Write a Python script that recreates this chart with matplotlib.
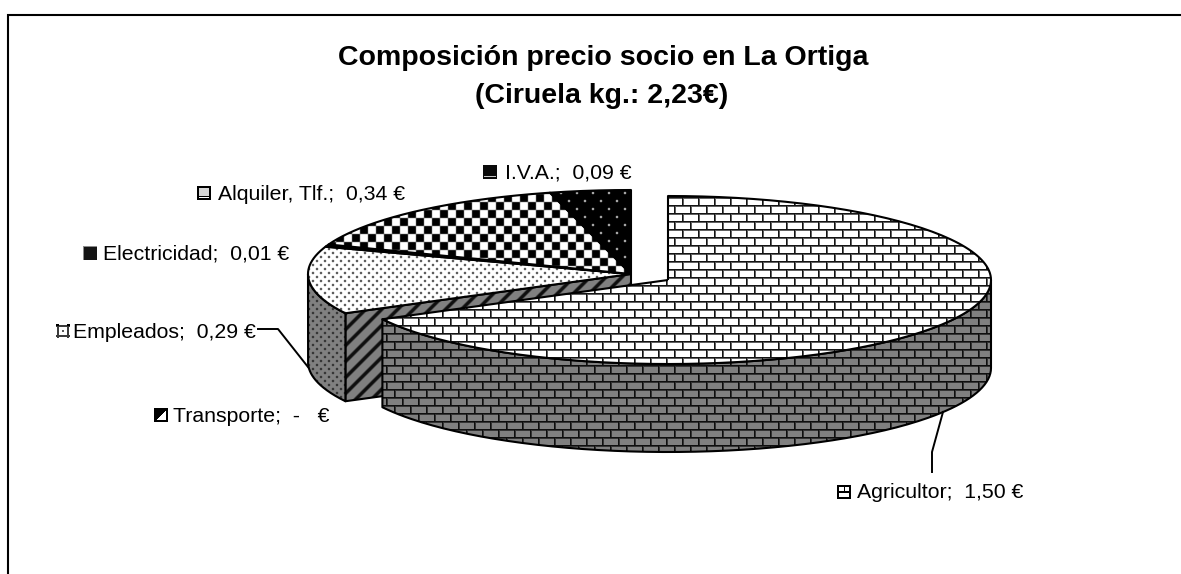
import numpy as np
import matplotlib
matplotlib.use("Agg")
import matplotlib.pyplot as plt
from matplotlib.path import Path
from matplotlib.patches import PathPatch

plt.rcParams['font.family'] = ['Liberation Sans', 'DejaVu Sans']

W, H = 1181, 574

# data, in drawing order (clockwise from 12 o'clock)
categories = ['Agricultor', 'Transporte', 'Empleados', 'Electricidad', 'Alquiler, Tlf.', 'I.V.A.']
prices = [1.50, 0.0, 0.29, 0.01, 0.34, 0.09]
value_texts = ['1,50 €', '-   €', '0,29 €', '0,01 €', '0,34 €', '0,09 €']
title_lines = ['Composición precio socio en La Ortiga', '(Ciruela kg.: 2,23€)']

# layout in pixels
CX, CY = 631, 274
RX, RY = 323, 84
DEPTH = 88
EXPLODE = (37, 6)
label_pos = [(857, 493), (173, 416), (73, 332), (103, 254), (218, 194), (505, 173)]
key_pos = [(837, 485), (154, 408), (56, 324), (83, 246), (197, 186), (483, 165)]


def soften(t):
    return (4 * t + np.roll(t, 1, 0) + np.roll(t, -1, 0) + np.roll(t, 1, 1) + np.roll(t, -1, 1)) / 8


def brick(bg, line):
    mid = (bg + 2 * line) / 3
    t = np.full((16, 16), float(bg))
    t[[6, 14], :] = mid
    t[5:13, 11] = mid
    t[np.r_[13:16, 0:5], 3] = mid
    t[[5, 13], :] = line
    t[5:13, 10] = line
    t[np.r_[13:16, 0:5], 2] = line
    return t


def dots(bg, dot, size=8):
    t = np.full((size, size), float(bg))
    h = size // 2
    t[0:2, 0:2] = dot
    t[h:h + 2, h:h + 2] = dot
    return soften(t)


def checker():
    x, y = np.meshgrid(np.arange(16), np.arange(16))
    t = np.where((x // 8 + (y - 2) // 8) % 2 == 1, 0.0, 255.0)
    return soften(t)


def stripes():
    x, y = np.meshgrid(np.arange(16), np.arange(16))
    t = np.where((x + y) % 16 < 5, 15.0, 128.0)
    return soften(t)


def solid(v):
    return np.full((16, 16), float(v))


top_tiles = [brick(255, 20), stripes(), dots(255, 40), solid(0), checker(), dots(0, 220, 16)]
wall_tiles = [brick(128, 15), stripes(), dots(128, 30), solid(0), solid(0), solid(0)]


def point(cx, cy, a):
    return cx + RX * np.cos(np.radians(a)), cy - RY * np.sin(np.radians(a))


def arc(cx, cy, a0, a1):
    a = np.linspace(a0, a1, 160)
    return np.column_stack([cx + RX * np.cos(np.radians(a)), cy - RY * np.sin(np.radians(a))])


def paint(ax, verts, tile, z):
    verts = np.vstack([verts, verts[:1]])
    patch = PathPatch(Path(verts), fc='none', ec='black', lw=1.5, zorder=z + 0.5, joinstyle='round')
    ax.add_patch(patch)
    ny, nx = H // tile.shape[0] + 1, W // tile.shape[1] + 1
    img = np.tile(tile, (ny, nx))[:H, :W]
    im = ax.imshow(img, cmap='gray', vmin=0, vmax=255, extent=(0, W, H, 0),
                   interpolation='nearest', aspect='auto', zorder=z)
    im.set_clip_path(patch)


def draw_key(ax, i, x, y):
    s = 14
    k = np.full((s, s), 255.0)
    if i == 0:
        k[0:2] = 0; k[-2:] = 0; k[:, 0:2] = 0; k[:, -2:] = 0; k[6:8] = 0; k[:7, 7] = 0
    elif i == 1:
        yy, xx = np.mgrid[0:s, 0:s]
        k[xx + yy < s] = 0
        k[0:2] = 0; k[-2:] = 0; k[:, 0:2] = 0; k[:, -2:] = 0
    elif i == 2:
        k[1:3] = 60; k[-3:-1] = 60; k[:, 1:3] = 60; k[:, -3:-1] = 60; k[0:2, 0:3] = 0; k[0:2, -3:] = 0; k[6:8, 6:8] = 90
    elif i == 3:
        k[:] = 20; k[0] = 140; k[:, 0] = 140
    elif i == 4:
        k[0:2] = 0; k[-2:] = 0; k[:, 0:2] = 0; k[:, -2:] = 0; k[2:11, 2:12] = 215; k[10:11, 2:12] = 0
    else:
        k[:] = 10; k[11:12, 1:13] = 200
    ax.imshow(k, cmap='gray', vmin=0, vmax=255, extent=(x, x + s, y + s, y),
              interpolation='nearest', aspect='auto', zorder=6)


fig = plt.figure(figsize=(W / 100, H / 100), dpi=100)
ax = fig.add_axes([0, 0, 1, 1])

total = sum(prices)
start = 90.0
slices = []
for i, v in enumerate(prices):
    end = start - v / total * 360
    slices.append((i, v, start, end))
    start = end

# back slices first, the exploded one goes on top of them
z = 1
for i, v, a0, a1 in slices[1:] + slices[:1]:
    cx, cy = (CX + EXPLODE[0], CY + EXPLODE[1]) if i == 0 else (CX, CY)
    if v == 0:
        ex, ey = point(cx, cy, a0)
        face = np.array([[cx, cy], [ex, ey], [ex, ey + DEPTH], [cx, cy + DEPTH]])
        paint(ax, face, top_tiles[i], z)
        z += 1
        continue
    hi, lo = min(a0, 0), max(a1, -180)
    if hi > lo:
        up = arc(cx, cy, hi, lo)
        down = up[::-1] + [0, DEPTH]
        paint(ax, np.vstack([up, down]), wall_tiles[i], z)
        z += 1
    paint(ax, np.vstack([[[cx, cy]], arc(cx, cy, a0, a1)]), top_tiles[i], z)
    z += 1

# leader lines
ax.plot([258, 278, 308], [329, 329, 367], color='black', lw=1.4, zorder=z)
ax.plot([932, 932, 943], [472, 452, 412], color='black', lw=1.4, zorder=z)

for i, name in enumerate(categories):
    ax.text(*label_pos[i], f"{name};  {value_texts[i]}", fontsize=15.3, va='center', ha='left', color='black', zorder=z)
    draw_key(ax, i, *key_pos[i])

ax.text(603, 58, title_lines[0], fontsize=20.5, fontweight='bold', ha='center', va='center')
ax.text(602, 96, title_lines[1], fontsize=20.5, fontweight='bold', ha='center', va='center')

# chart frame, only top and left show
ax.plot([8, 8, W], [H, 15, 15], color='black', lw=1.5, zorder=z, solid_joinstyle='miter')

ax.set_xlim(0, W)
ax.set_ylim(H, 0)
ax.axis('off')
fig.savefig('out.png', dpi=100)
